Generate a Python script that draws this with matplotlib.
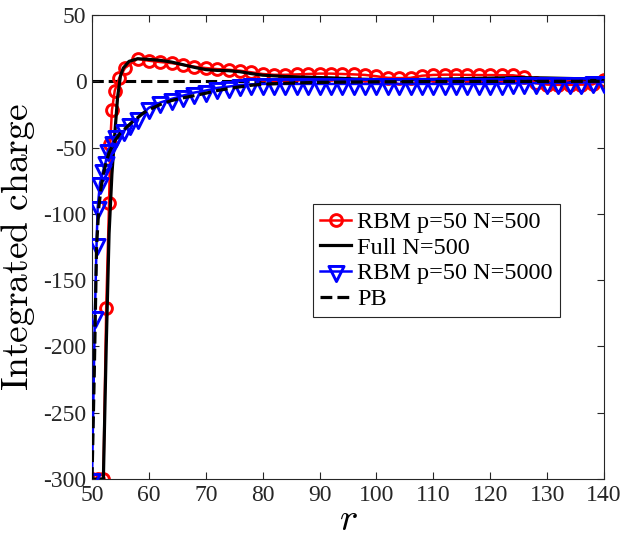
import matplotlib
matplotlib.use("Agg")
import matplotlib.pyplot as plt
from matplotlib.path import Path

plt.rcParams['axes.unicode_minus'] = False
plt.rcParams['mathtext.fontset'] = 'cm'

# RBM p=50 N=500
r_rbm500 = [50, 51, 52, 52.5, 53.0, 53.2, 53.5, 54.0, 54.8, 55.8, 58, 60, 62, 64, 66, 68, 70,
            72, 74, 76, 78, 80, 82, 84, 86, 88, 90, 92, 94, 96, 98, 100, 102, 104, 106,
            108, 110, 112, 114, 116, 118, 120, 122, 124, 126, 128, 130, 132, 134, 136,
            138, 140]
q_rbm500 = [-300, -300, -300, -171, -92, -47, -22, -7, 2.4, 10, 17, 15.5, 14.5, 13.7, 12.4, 11,
            10, 9.2, 8.7, 8, 6.8, 5.5, 4.9, 4.9, 5.2, 5.5, 5.8, 5.8, 5.5, 5.2, 4.8, 3.8, 2.6,
            2.4, 2.6, 4.2, 4.8, 5, 5, 4.8, 4.7, 4.7, 4.6, 4.5, 3.5, -1.5, -2.5, -2.7, -2.7,
            -2.5, -2.4, 1]

# Full N=500
r_full = [50, 52.0, 52.5, 53.0, 53.5, 54.0, 54.5, 55.0, 55.5, 56.5, 58, 60, 62, 64, 66, 68,
          70, 72, 74, 76, 78, 80, 84, 88, 92, 97, 102, 110, 118, 125, 130, 135, 140]
q_full = [-300, -300, -200, -115, -70, -40, -12, 4, 10, 15, 17, 16.5, 15.8, 14.5, 12.5, 10.5,
          8.8, 8.2, 8, 7.2, 5.8, 4.6, 3.6, 3, 2.6, 1.6, 1.2, 1.5, 2.2, 2.8, 2.5, 2, 1]

# RBM p=50 N=5000
r_rbm5000 = [50, 50.5, 50.8, 51.0, 51.4, 52.0, 52.4, 52.8, 53.7, 54.3, 55.7, 56.7, 58, 60, 62,
             64, 66, 68, 70, 72, 74, 76, 78, 80, 82, 84, 86, 88, 90, 92, 94, 96, 98, 100,
             102, 104, 106, 108, 110, 112, 114, 116, 118, 120, 122, 124, 126, 128, 130,
             132, 134, 136, 138, 140]
q_rbm5000 = [-300, -178, -123, -95, -77, -67, -61, -52, -46, -41, -37, -32, -28, -20, -16,
             -13.3, -10.8, -8.5, -7, -5, -4, -2.8, -2.3, -2, -2, -2, -2, -2, -2, -2, -2,
             -2, -2, -2, -2, -2, -2, -2, -2, -2, -2, -2, -2, -2, -1.8, -1.6, -1.5, -1.4,
             -1.3, -1.2, -1.1, -1, -0.8, -0.5]

# PB
r_pb = [50, 50.4, 50.8, 51.2, 51.6, 52, 52.5, 53, 54, 55, 56, 57, 58, 59, 60, 62, 64, 66, 68,
        70, 72, 75, 78, 80, 84, 90, 100, 110, 120, 140]
q_pb = [-300, -220, -125, -95, -80, -70, -61, -54, -45, -39, -35, -31, -27.5, -24, -21.5,
        -17.5, -14.5, -12.5, -10.8, -9, -7, -4.8, -3, -2.2, -1.5, -0.8, -0.4, -0.2, -0.1, 0]

xticks = list(range(50, 141, 10))
yticks = list(range(-300, 51, 50))

# downward triangle centred on its centroid (like MATLAB 'v')
tri = Path([(-1, 0.667), (1, 0.667), (0, -1.333), (-1, 0.667)],
           [Path.MOVETO, Path.LINETO, Path.LINETO, Path.CLOSEPOLY])

fig = plt.figure(figsize=(6.23, 5.42), dpi=100)
ax = fig.add_axes([92 / 623, 1 - 479 / 542, 512 / 623, 464 / 542])

ax.plot([50, 140], [0, 0], 'k--', lw=2.2, zorder=1)
ax.plot(r_rbm500, q_rbm500, '-o', color='red', lw=1.8, ms=8.5, mew=2.1, mfc='none',
        label='RBM p=50 N=500', zorder=2)
ax.plot(r_full, q_full, '-', color='black', lw=2.3, label='Full N=500', zorder=3)
ax.plot(r_rbm5000, q_rbm5000, '-', marker=tri, color='blue', lw=1.8, ms=14.5, mew=2.1,
        mfc='none', label='RBM p=50 N=5000', zorder=4)
ax.plot(r_pb, q_pb, '--', color='black', lw=2.3, label='PB', zorder=5)

ax.set_xlim(50, 140)
ax.set_ylim(-300, 50)
ax.set_xticks(xticks)
ax.set_yticks(yticks)
ax.tick_params(direction='in', length=5, width=0.8, top=True, right=True,
               labelsize=17, colors='#262626', pad=4)
for lab in ax.get_xticklabels() + ax.get_yticklabels():
    lab.set_family('Liberation Serif')
for sp in ax.spines.values():
    sp.set_color('#262626')
    sp.set_linewidth(0.8)

ax.set_xlabel('$r$', fontsize=28, labelpad=-4)
ax.set_ylabel(r'$\mathrm{Integrated\ charge}$', fontsize=27)
ax.yaxis.set_label_coords(-0.108, 0.5)

leg = ax.legend(loc='upper left', bbox_to_anchor=(0.432, 0.593), borderaxespad=0,
                prop={'family': 'Liberation Serif', 'size': 17.5}, fancybox=False,
                edgecolor='#262626', framealpha=1, handlelength=1.25,
                handletextpad=0.25, labelspacing=0.15, borderpad=0.3)
leg.get_frame().set_linewidth(0.8)

fig.savefig('out.png', dpi=100)
